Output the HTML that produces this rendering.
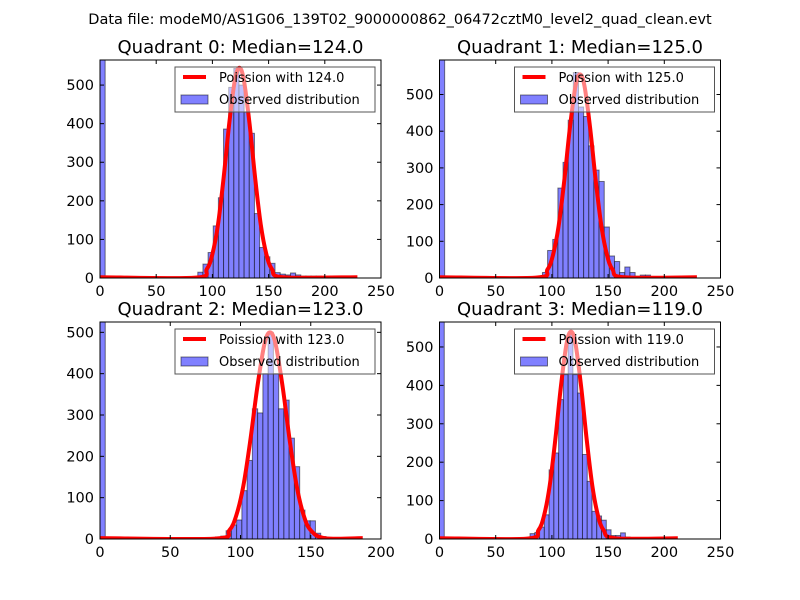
<!DOCTYPE html>
<html><head><meta charset="utf-8"><style>
body{margin:0;background:#fff;}
svg{display:block;font-family:"DejaVu Sans","Liberation Sans",sans-serif;}
</style></head><body>
<svg id="fig" width="800" height="600" viewBox="0 0 800 600">
<rect width="800" height="600" fill="#fff"/>
<text x="400" y="24" text-anchor="middle" font-size="14.5">Data file: modeM0/AS1G06_139T02_9000000862_06472cztM0_level2_quad_clean.evt</text>
</svg>
<script>
// ---- data ----
const medians = [124.0, 125.0, 123.0, 119.0];
const binWidths = [4.58, 4.58, 3.74, 4.24];
const xMaxes = [250, 250, 200, 250];
const yMaxes = [565, 594, 525, 565];
const xTicks0 = [0, 50, 100, 150, 200, 250];
const xTicks2 = [0, 50, 100, 150, 200];
const yTicks = [0, 100, 200, 300, 400, 500];
// bin counts starting at bin index 0
const counts0 = [700,0,0,0,0,0,0,0,0,0,0,0,0,0,0,0,0,0,0,15,36,66,135,208,386,494,543,500,430,375,167,79,55,38,14,10,8,13,8,5,5,5,5,3,0,4,0,0,0,0];
const counts1 = [700,0,0,0,0,0,0,0,0,0,0,0,0,0,0,0,0,0,0,5,15,75,105,245,315,430,560,466,440,360,294,263,139,60,45,15,30,15,5,8,8,0,0,0,0,0,0,0,0,0];
const counts2 = [700,0,0,0,0,0,0,0,0,0,0,0,0,0,0,0,0,0,0,0,0,0,5,7,20,34,46,117,190,315,305,400,500,400,315,336,244,175,70,44,44,14,6,0,0,0,0,0,0,0];
const counts3 = [700,0,0,0,0,0,0,0,0,0,0,0,0,0,0,0,0,0,0,14,17,31,63,180,224,363,428,532,428,380,220,150,72,60,49,24,9,9,16,5,0,0,0,0,0,0,0,0,0,0];
// Poisson curve samples
const curveX0 = [0,85,95,100,105,110,115,120,124,128,133,138,143,148,153,163,229];
const curveY0 = [2,1,23,62,139,260,401,513,545,513,401,260,139,62,23,2,2];
const curveX1 = [0,86,96,101,106,111,116,121,125,129,134,139,144,149,154,164,229];
const curveY1 = [2,1,23,63,142,265,409,523,555,523,409,265,142,63,23,2,2];
const curveX2 = [0,82,92,97,102,107,112,117,121,125,130,135,140,145,150,160,187];
const curveY2 = [2,1,21,57,128,239,368,471,500,471,368,239,128,57,21,2,2];
const curveX3 = [0,78,88,93,98,103,108,113,117,121,126,131,136,141,146,156,212];
const curveY3 = [2,1,23,61,138,258,397,508,540,508,397,258,138,61,23,2,2];

const countsAll = [counts0, counts1, counts2, counts3];
const curvesX = [curveX0, curveX1, curveX2, curveX3];
const curvesY = [curveY0, curveY1, curveY2, curveY3];

const NS = "http://www.w3.org/2000/svg";
const svg = document.getElementById('fig');
function mk(tag, attrs, parent){const e=document.createElementNS(NS,tag);for(const k in attrs)e.setAttribute(k,attrs[k]);(parent||svg).appendChild(e);return e;}

const boxes = [
  {x0:100, x1:381, y0:60, y1:278, title:"Quadrant 0: Median=124.0"},
  {x0:439.5, x1:720.5, y0:60, y1:278, title:"Quadrant 1: Median=125.0"},
  {x0:100, x1:381, y0:322, y1:539, title:"Quadrant 2: Median=123.0"},
  {x0:439.5, x1:720.5, y0:322, y1:539, title:"Quadrant 3: Median=119.0"}
];

boxes.forEach((b, i) => {
  const g = mk('g', {});
  
  
  const xs = v => b.x0 + (v / xMaxes[i]) * (b.x1 - b.x0);
  const ys = v => b.y1 - (v / yMaxes[i]) * (b.y1 - b.y0);
  const defs = mk('defs', {}, g);
  const clip = mk('clipPath', {id: 'clip' + i}, defs);
  mk('rect', {x: b.x0, y: b.y0, width: b.x1 - b.x0, height: b.y1 - b.y0}, clip);
  const plot = mk('g', {'clip-path': 'url(#clip' + i + ')'}, g);
  const bw = binWidths[i];
  countsAll[i].forEach((c, k) => {
    if (c <= 0) return;
    const r = mk('rect', {x: xs(k * bw), y: ys(c), width: xs((k + 1) * bw) - xs(k * bw), height: b.y1 - ys(c), fill: 'rgb(128,128,255)', stroke: 'rgba(0,0,0,0.5)', 'stroke-width': 1}, plot);
    
    
  });
  const px = curvesX[i].map(xs), py = curvesY[i].map(ys);
  let d = 'M' + px[0] + ',' + py[0];
  for (let j = 0; j < px.length - 1; j++) {
    const p0 = j > 0 ? j - 1 : j, p3 = j + 2 < px.length ? j + 2 : j + 1;
    const c1x = px[j] + (px[j+1] - px[p0]) / 6, c1y = py[j] + (py[j+1] - py[p0]) / 6;
    const c2x = px[j+1] - (px[p3] - px[j]) / 6, c2y = py[j+1] - (py[p3] - py[j]) / 6;
    d += ' C' + c1x + ',' + c1y + ' ' + c2x + ',' + c2y + ' ' + px[j+1] + ',' + py[j+1];
  }
  const line = mk('path', {d: d, fill: 'none', stroke: '#ff0000', 'stroke-width': 4, 'stroke-linejoin': 'round'}, plot);
  
  
  const xt = i === 2 ? xTicks2 : xTicks0;
  xt.forEach(t => {
    const x = xs(t);
    mk('line', {x1: x, x2: x, y1: b.y1, y2: b.y1 - 4, stroke: '#000'}, g);
    mk('line', {x1: x, x2: x, y1: b.y0, y2: b.y0 + 4, stroke: '#000'}, g);
    const tx = mk('text', {x: x, y: b.y1 + 18, 'text-anchor': 'middle', 'font-size': 14.5}, g);
    tx.textContent = t;
    
    
  });
  yTicks.forEach(t => {
    const y = ys(t);
    mk('line', {x1: b.x0, x2: b.x0 + 4, y1: y, y2: y, stroke: '#000'}, g);
    mk('line', {x1: b.x1, x2: b.x1 - 4, y1: y, y2: y, stroke: '#000'}, g);
    const tx = mk('text', {x: b.x0 - 6, y: y + 5, 'text-anchor': 'end', 'font-size': 14.5}, g);
    tx.textContent = t;
    
    
  });
  mk('rect', {x: b.x0, y: b.y0, width: b.x1 - b.x0, height: b.y1 - b.y0, fill: 'none', stroke: '#000', 'stroke-width': 1}, g);
  const title = mk('text', {x: (b.x0 + b.x1) / 2, y: b.y0 - 7, 'text-anchor': 'middle', 'font-size': 18}, g);
  title.textContent = b.title;
  
  
  const lx = b.x1 - 206, ly = b.y0 + 7;
  const lg = mk('g', {}, g);
  
  
  mk('rect', {x: lx, y: ly, width: 200, height: 45, fill: 'rgba(255,255,255,0.5)', stroke: '#555', 'stroke-width': 1}, lg);
  mk('line', {x1: lx + 8, x2: lx + 31, y1: ly + 10, y2: ly + 10, stroke: '#ff0000', 'stroke-width': 4}, lg);
  const t1 = mk('text', {x: lx + 44, y: ly + 15, 'font-size': 13}, lg);
  t1.textContent = 'Poission with ' + medians[i].toFixed(1);
  
  
  mk('rect', {x: lx + 6, y: ly + 28, width: 27, height: 9, fill: 'rgb(128,128,255)', stroke: 'rgba(0,0,0,0.5)'}, lg);
  const t2 = mk('text', {x: lx + 44, y: ly + 37, 'font-size': 13}, lg);
  t2.textContent = 'Observed distribution';
  
  
});
</script>
</body></html>
